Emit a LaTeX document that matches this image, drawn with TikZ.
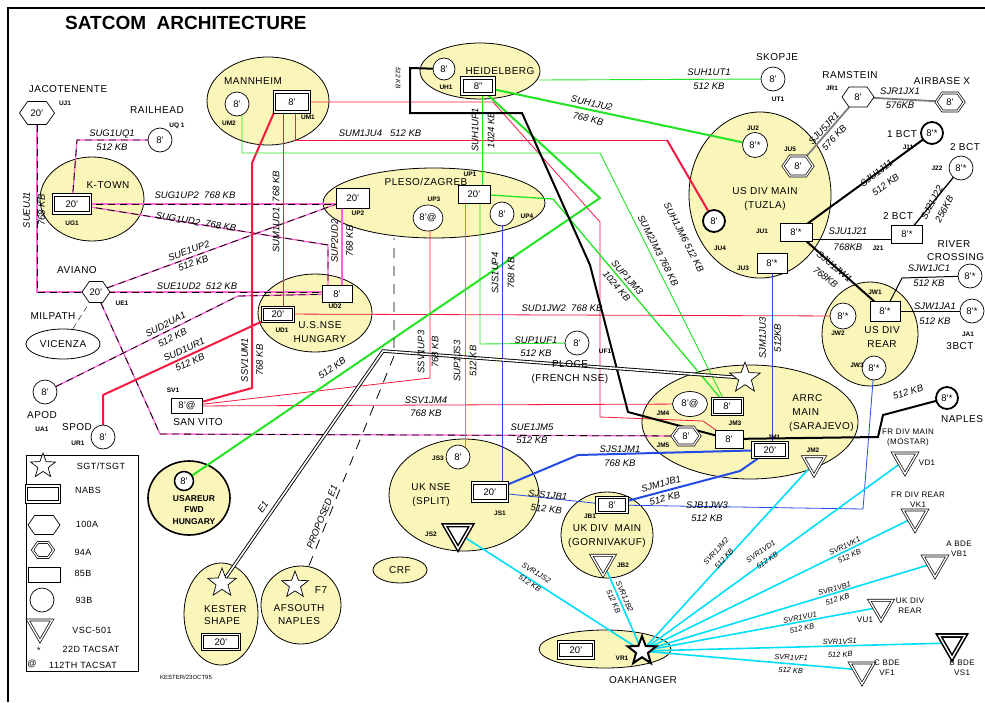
\documentclass[tikz,border=0pt]{standalone}
\usepackage{fontspec}
\setmainfont{Liberation Sans}
\newfontfamily\plf[LetterSpace=5]{Liberation Sans}
\usetikzlibrary{shapes.geometric,shapes.symbols,calc}
\pgfdeclarelayer{bg}
\pgfdeclarelayer{lines}
\pgfsetlayers{bg,lines,main}
\definecolor{yel}{RGB}{250,245,185}
\definecolor{pk}{RGB}{255,100,215}
\definecolor{rd}{RGB}{245,25,65}
\definecolor{gn}{RGB}{35,228,35}
\definecolor{bl}{RGB}{35,75,230}
\definecolor{cy}{RGB}{0,222,250}
\definecolor{gy}{RGB}{125,125,125}
\newcommand\fsz[1]{\fontsize{#1}{#1}\selectfont}
\tikzset{
 ell/.style={ellipse, draw, fill=yel, line width=0.8pt, inner sep=0pt},
 lab/.style={font=\fsz{9.5}\itshape, inner sep=0pt},
 lab2/.style={align=center, font=\fontsize{9.5}{#1}\selectfont\itshape, inner sep=0pt},
 clab2/.style={align=center, font=\fontsize{7.5}{#1}\selectfont\itshape, inner sep=0pt},
 slab/.style={font=\fsz{6.5}\itshape, inner sep=0pt},
 plc/.style={font=\plf\fsz{10}, inner sep=0pt, align=center},
 plc2/.style={font=\plf\fontsize{10}{#1}\selectfont, inner sep=0pt, align=center},
 tl/.style={font=\plf\fsz{8}, inner sep=0pt, align=center},
 tl2/.style={font=\plf\fontsize{8}{10}\selectfont, inner sep=0pt, align=center},
 lgt/.style={font=\plf\fsz{9}, inner sep=0pt},
 idl/.style={font=\fsz{6.5}\bfseries, inner sep=0pt},
 c93/.style={circle, draw, fill=white, line width=0.7pt, minimum size=24pt, inner sep=0pt, font=\fsz{9.5}},
 r85/.style={rectangle, draw, fill=white, line width=0.7pt, minimum width=32pt, minimum height=18pt, inner sep=0pt, font=\fsz{9.5}},
 nabs/.style={r85, line width=0.8pt, double=white, double distance=1.6pt},
 hexA/.style={signal, signal to=west and east, signal pointer angle=110, draw, fill=white, line width=0.7pt, inner sep=0pt, font=\fsz{9.5}},
 hexB/.style={hexA, double=white, double distance=1.2pt},
 vsc/.style={regular polygon, regular polygon sides=3, shape border rotate=180, draw, fill=white, line width=0.7pt, double=white, double distance=1.4pt, inner sep=0pt, minimum size=28pt},
 sgt/.style={star, star points=5, star point ratio=2.4, draw, fill=white, line width=0.7pt, inner sep=0pt, minimum size=30pt},
 pd/.style={draw=black, line width=0.8pt, dash pattern=on 7pt off 5pt, preaction={draw=pk, line width=1.3pt, solid}},
 thn/.style={line width=0.8pt},
 thk/.style={line width=2pt}
}
\begin{document}
\begin{tikzpicture}[x=1pt,y=-1pt]
\useasboundingbox (0,0) rectangle (985,702);
\begin{pgfonlayer}{bg}
\fill[white] (0,0) rectangle (985,702);
\node[ell,minimum width=122pt,minimum height=88pt] (eman) at (268,101) {};
\node[ell,minimum width=120pt,minimum height=56pt] (ehei) at (480,71) {};
\node[ell,minimum width=104pt,minimum height=84pt] (ektn) at (92,199) {};
\node[ell,minimum width=222pt,minimum height=70pt] (eple) at (434,203) {};
\node[ell,minimum width=142pt,minimum height=166pt] (etuz) at (760,195) {};
\node[ell,minimum width=114pt,minimum height=78pt] (ensh) at (315,313) {};
\node[ell,minimum width=96pt,minimum height=104pt] (erear) at (870,334) {};
\node[ell,minimum width=216pt,minimum height=114pt] (earrc) at (750,422) {};
\node[ell,minimum width=150pt,minimum height=112pt] (espl) at (464,495) {};
\node[ell,minimum width=92pt,minimum height=86pt] (egor) at (607,535) {};
\node[ell,minimum width=132pt,minimum height=38pt] (eoak) at (605,649) {};
\node[ell,line width=1.6pt,minimum width=82pt,minimum height=74pt] (eusa) at (189,498) {};
\node[ell,minimum width=74pt,minimum height=102pt] (ekes) at (221,614) {};
\node[ell,minimum width=80pt,minimum height=78pt] (eafs) at (301,605) {};
\node[ell,minimum width=54pt,minimum height=26pt] (ecrf) at (400,570) {};
\node[ell,fill=white,minimum width=74pt,minimum height=30pt] (evic) at (63,344) {};
\end{pgfonlayer}

% frame and title
\draw[line width=2.5pt] (8,702) -- (8,8) -- (985,8);
\node[font=\bfseries\fsz{19}, anchor=west, inner sep=0pt] (title) at (65,23) {SATCOM\ \ ARCHITECTURE};

% ---------- nodes ----------
\node[hexA, minimum width=35pt, minimum height=23pt] (uj1) at (37,113) {20'};
\node[plc] (t1) at (68,89) {JACOTENENTE};
\node[idl] (i1) at (65,103) {UJ1};
\node[plc] (t2) at (157,110) {RAILHEAD};
\node[c93] (uq1) at (160,140) {8'};
\node[idl] (i2) at (177,126) {UQ 1};

\node[plc] (t3) at (253,81) {MANNHEIM};
\node[c93] (um2) at (237,104) {8'};
\node[idl] (i3) at (229,123) {UM2};
\node[nabs, minimum width=35pt, minimum height=20pt] (um1) at (292,102) {8'};
\node[idl] (i4) at (308,117) {UM1};

\node[plc] (t4) at (500,71) {HEIDELBERG};
\node[c93, minimum size=22pt] (uh1) at (444,69) {8'};
\node[idl] (i5) at (446,87) {UH1};
\node[nabs, minimum width=32pt, minimum height=16pt] (uhb) at (478,86) {8''};

\node[plc] (t5) at (108,185) {K-TOWN};
\node[nabs, minimum width=37pt, minimum height=18pt] (ug1) at (72,204) {20'};
\node[idl] (i6) at (72,223) {UG1};

\node[plc] (t6) at (426,182) {PLESO/ZAGREB};
\node[r85, minimum width=33pt, minimum height=20pt] (up2) at (353,198) {20'};
\node[idl] (i7) at (358,213) {UP2};
\node[ellipse, draw, fill=white, line width=0.7pt, inner sep=0pt, minimum width=30pt, minimum height=26pt, font=\fsz{9.5}] (up3) at (428,218) {8'@};
\node[idl] (i8) at (434,199) {UP3};
\node[r85, minimum width=32pt, minimum height=18pt] (up1) at (474,194) {20'};
\node[idl] (i9) at (470,174) {UP1};
\node[c93] (up4) at (502,214) {8'};
\node[idl] (i10) at (527,216) {UP4};

\node[plc2=14] (t7) at (765,199) {US DIV MAIN\\(TUZLA)};
\node[c93, minimum width=25pt] (ju2) at (755,145) {8'*};
\node[idl] (i11) at (753,128) {JU2};
\node[hexB, minimum width=30pt, minimum height=20pt] (ju5) at (798,166) {8'};
\node[idl] (i12) at (790,149) {JU5};
\node[c93, line width=1.8pt, minimum size=22pt] (ju4) at (714,221) {8'};
\node[idl] (i13) at (720,248) {JU4};
\node[r85, minimum width=32pt, minimum height=18pt] (ju1) at (796,232) {8'*};
\node[idl] (i14) at (762,231) {JU1};
\node[r85, minimum width=30pt, minimum height=20pt] (ju3) at (772,263) {8'*};
\node[idl] (i15) at (743,268) {JU3};

\node[plc] (t8) at (777,57) {SKOPJE};
\node[c93] (ut1) at (773,79) {8'};
\node[idl] (i16) at (778,99) {UT1};
\node[plc] (t9) at (850,75) {RAMSTEIN};
\node[idl] (i17) at (832,88) {JR1};
\node[hexA, minimum width=32pt, minimum height=20pt] (jr1) at (858,97) {8'};
\node[plc] (t10) at (942,81) {AIRBASE X};
\node[hexB, minimum width=28pt, minimum height=18pt] (jx1) at (950,102) {8'};
\node[plc] (t11) at (902,134) {1 BCT};
\node[c93, line width=1.8pt, minimum size=22pt] (j11) at (932,133) {8'*};
\node[idl] (i18) at (908,147) {J11};
\node[plc] (t12) at (965,147) {2 BCT};
\node[c93] (j22) at (961,168) {8'*};
\node[idl] (i19) at (937,168) {J22};
\node[plc] (t13) at (898,216) {2 BCT};
\node[r85, minimum width=31pt, minimum height=18pt] (j21) at (907,234) {8'*};
\node[idl] (i20) at (878,248) {J21};

\node[plc2=13] (t14) at (954,251) {RIVER\\ \ CROSSING};
\node[c93] (jc1) at (970,276) {8'*};
\node[c93] (ja1) at (972,311) {8'*};
\node[idl] (i21) at (968,334) {JA1};
\node[plc] (t15) at (960,346) {3BCT};

\node[plc2=14] (t16) at (320,332) {U.S.NSE\\HUNGARY};
\node[r85, minimum width=30pt, minimum height=17pt] (ud2) at (337,294) {8'};
\node[idl] (i22) at (335,306) {UD2};
\node[nabs, line width=1.1pt, double distance=0.8pt, minimum width=31pt, minimum height=14pt] (ud1) at (278,314) {20'};
\node[idl] (i23) at (282,330) {UD1};

\node[plc2=14] (t17) at (882,337) {US DIV\\REAR};
\node[r85, minimum width=30pt, minimum height=20pt] (jw1) at (885,311) {8'*};
\node[idl] (i24) at (875,292) {JW1};
\node[c93, minimum size=26pt] (jw2) at (843,316) {8'*};
\node[idl] (i25) at (838,333) {JW2};
\node[c93] (jw3) at (874,368) {8'*};
\node[idl] (i26) at (857,365) {JW3};

\node[plc] (t18) at (962,419) {NAPLES};
\node[c93, line width=1.8pt, minimum size=22pt] (nap) at (947,398) {8'*};

\node[plc2=14, anchor=north west, align=left] (t19) at (789,394) {\ ARRC\\\ MAIN\\(SARAJEVO)};
\node[sgt, minimum size=32pt] (jmstar) at (745,378) {};
\node[nabs, line width=1.1pt, double distance=0.8pt, minimum width=30pt, minimum height=16pt] (jm3n) at (727,406) {8'};
\node[ellipse, draw, fill=white, line width=0.7pt, inner sep=0pt, minimum width=35pt, minimum height=25pt, font=\fsz{9.5}] (jm4) at (690,404) {8'@};
\node[idl] (i27) at (663,413) {JM4};
\node[hexB, minimum width=28pt, minimum height=18pt] (jm5) at (686,436) {8'};
\node[idl] (i28) at (663,445) {JM5};
\node[r85, minimum width=28pt, minimum height=18pt] (jm3) at (729,439) {8'};
\node[idl] (i29) at (735,423) {JM3};
\node[nabs, minimum width=34pt, minimum height=15pt] (jm1) at (770,450) {20'};
\node[idl] (i30) at (774,437) {JM1};
\node[vsc, minimum size=25pt] (jm2) at (814,463) {};
\node[idl] (i31) at (813,450) {JM2};

\node[plc] (t20) at (77,270) {AVIANO};
\node[hexA, minimum width=28pt, minimum height=21pt] (ue1) at (96,292) {20'};
\node[idl] (i32) at (122,303) {UE1};
\node[plc] (t21) at (53,316) {MILPATH};
\node[plc] (t22) at (63,344) {VICENZA};
\node[c93] (ua1) at (45,392) {8'};
\node[plc] (t23) at (42,415) {APOD};
\node[idl] (i33) at (42,429) {UA1};
\node[plc] (t24) at (77,427) {SPOD};
\node[idl] (i34) at (78,443) {UR1};
\node[c93] (ur1) at (103,437) {8'};
\node[r85, minimum width=31pt, minimum height=15pt] (sv1) at (187,406) {8'@};
\node[idl] (i35) at (173,390) {SV1};
\node[plc] (t25) at (198,422) {SAN VITO};

\node[c93] (uf1) at (577,343) {8'};
\node[idl] (i36) at (605,351) {UF1};
\node[plc2=14] (t26) at (570,372) {PLOCE\\(FRENCH NSE)};

\node[plc2=14] (t27) at (431,495) {UK NSE\\(SPLIT)};
\node[c93] (js3) at (458,457) {8'};
\node[idl] (i37) at (438,458) {JS3};
\node[nabs, minimum width=35pt, minimum height=18pt] (js1) at (490,492) {20'};
\node[idl] (i38) at (500,513) {JS1};
\node[vsc, line width=1.5pt, minimum size=31pt] (js2) at (458,533) {};
\node[idl] (i39) at (431,534) {JS2};

\node[plc2=14] (t28) at (607,536) {UK DIV\ \ MAIN\\(GORNIVAKUF)};
\node[nabs, minimum width=30pt, minimum height=15pt] (jb1) at (612,505) {8'};
\node[idl] (i40) at (590,516) {JB1};
\node[vsc, minimum size=27pt] (jb2) at (603,562) {};
\node[idl] (i41) at (623,565) {JB2};

\node[nabs, minimum width=35pt, minimum height=16pt] (oakb) at (576,650) {20'};
\node[sgt, line width=2pt, minimum size=30pt] (vr1) at (642,651) {};
\node[idl] (i42) at (622,658) {VR1};
\node[plc] (t29) at (643,680) {OAKHANGER};

\node[c93, line width=1.5pt, minimum size=19pt] (usa8) at (184,481) {8'};
\node[font=\fontsize{8.5}{11.5}\selectfont\bfseries, inner sep=0pt, align=center] (t30) at (194,510) {USAREUR\\FWD\\HUNGARY};

\node[sgt] (kstar) at (222,583) {};
\node[plc2=12, anchor=west, align=left] (t31) at (204,615) {KESTER\\SHAPE};
\node[nabs, minimum width=37pt, minimum height=15pt] (kesb) at (221,642) {20'};

\node[sgt, minimum size=28pt] (afstar) at (295,585) {};
\node[plc] (t32) at (321,590) {F7};
\node[plc2=13] (t33) at (299,615) {AFSOUTH\\NAPLES};
\node[plc] (t34) at (400,570) {CRF};

% triangles (VSC-501)
\node[vsc] (vd1) at (905,460) {};
\node[tl2] (t35) at (908,438) {FR DIV MAIN\\(MOSTAR)};
\node[tl] (t36) at (927,463) {VD1};
\node[vsc] (vk1) at (915,517) {};
\node[tl2] (t37) at (918,500) {FR DIV REAR\\VK1};
\node[vsc] (vb1) at (935,563) {};
\node[tl2] (t38) at (959,549) {A BDE\\VB1};
\node[vsc, minimum size=27pt] (vu1) at (881,607) {};
\node[tl2] (t39) at (910,606) {UK DIV\\REAR};
\node[tl] (t40) at (865,620) {VU1};
\node[vsc, line width=1.6pt, minimum size=30pt] (vs1) at (952,643) {};
\node[tl2] (t41) at (962,668) {B BDE\\VS1};
\node[vsc] (vf1) at (862,670) {};
\node[tl2] (t42) at (887,668) {C BDE\\VF1};

% legend
\draw[line width=0.8pt] (26,455) rectangle (138,671);
\node[sgt, minimum size=26pt] (lg1) at (43,466) {};
\node[lgt] (l1) at (101,466) {SGT/TSGT};
\node[nabs, minimum width=33pt, minimum height=16pt] (lg2) at (43,494) {};
\node[lgt] (l2) at (88,490) {NABS};
\node[hexA, minimum width=32pt, minimum height=19pt] (lg3) at (44,525) {};
\node[lgt] (l3) at (87,524) {100A};
\node[hexB, minimum width=21pt, minimum height=15pt] (lg4) at (43,550) {};
\node[lgt] (l4) at (83,552) {94A};
\node[r85, minimum width=32pt, minimum height=15pt] (lg5) at (44,575) {};
\node[lgt] (l5) at (83,573) {85B};
\node[c93] (lg6) at (42,600) {};
\node[lgt] (l6) at (84,600) {93B};
\node[vsc] (lg7) at (40,627) {};
\node[lgt] (l7) at (92,630) {VSC-501};
\node[lgt] (l8) at (39,650) {*};
\node[lgt] (l9) at (91,649) {22D TACSAT};
\node[lgt] (l10) at (32,664) {@};
\node[lgt] (l11) at (83,665) {112TH TACSAT};
\node[font=\fsz{6}, inner sep=0pt] (t43) at (186,677) {KESTER/23OCT95};

% ---------- connectors ----------
\begin{pgfonlayer}{lines}
\draw[pd] (uj1.center) |- (ue1.center);
\draw[pd] (ug1.center) -- (77,140) -- (uq1.center);
\draw[pd] (ug1.center) -- (ug1.center -| up2.center);
\draw[pd] (ug1.center) -- (328,245) -- (328,294);
\draw[pd] (ue1.center) -- (up2.center);
\draw[pd] (ue1.center) -- (ue1.center -| ud2.center);
\draw[pd] (ue1.center) -- (160,434) -- (jm5.center);
\draw[pd] (ua1.center) -- (238,296) -- (ud2.center);
\draw[pk, line width=1.2pt] (342,199) -- (342,294);
\draw[thin, dash pattern=on 6pt off 4pt] (evic.north) ++(10,0) -- (88,305);
% red
\draw[rd, thk] (ur1.center) -- (103,395) -- (ud1.center);
\draw[rd, thk] (sv1.center) -- (252,388) -- (252,163) -- (um1.south west);
\draw[rd, thn] (sv1.center) -- (430,378) -- (430,218);
\draw[rd, thn] (sv1.center) -- (jm4.center);
\draw[rd, thn] (295,101) -- (295,140) -- (667,140);
\draw[rd, thk] (667,140) -- (ju4.center);
\draw[rd, thn] (um1.center) -- (493,102) -- (600,222) -- (600,417) -- (703,421) -- (jm3.center);
\draw[rd, thn] (ud1.center) -- (jw2.center);
\draw[rd, thn] (283,101) -- (283,314);
% green
\draw[gn, line width=0.9pt] ($(ehei.east)+(-1,9)$) -- (ut1.center);
\draw[gn, thk] (uhb.center) -- (ju2.center);
\draw[gn, line width=0.9pt] (482,86) -- (482,194);
\draw[gn, thk] (uhb.center) -- (600,198) -- (usa8.center);
\draw[gn, line width=0.9pt] (242,104) -- (242,153) -- (600,153) -- (jm3n.center);
\draw[gn, line width=1.3pt] (up1.center) -- (553,199) -- (jm3n.center);
\draw[gn, line width=0.9pt] (480,194) -- (480,344) -- (uf1.center);
\draw[gn, line width=0.9pt] (465,194) -- (465,457);
% blue
\draw[bl, thn] (up4.center) -- (up4.center |- js1.center);
\draw[bl, thk] (js1.center) -- (578,455) -- (jm1.center);
\draw[bl, thn] (js1.center) -- (jb1.center);
\draw[bl, thk] (jb1.center) -- (740,471) -- (jm1.center);
\draw[bl, thn] (jb1.center) -- (863,509) -- (jw3.center);
\draw[bl, thn] (ju3.center) -- (ju3.center |- jm1.center);
% black / grey
\draw[thk] (uh1.center) -- (410,68) -- (410,113) -- (522,113) -- (590,265) -- (628,412) -- (jm3.center);
\draw[thk] (jm3.center) -- (878,437) -- (883,415) -- (nap.center);
\draw[gy, line width=1.8pt] (jr1.center) -- (jx1.center);
\draw[gy, line width=1.8pt] (ju5.center) -- (jr1.center);
\draw[thk] (ju1.center) -- (j11.center);
\draw[line width=1pt] ($(ju1.east)+(0,7)$) -- ($(j21.west)+(0,5)$);
\draw[line width=1.3pt] (j21.center) -- (j22.center);
\draw[thk] (ju1.center) -- (jw1.center);
\draw[line width=1pt] (jw1.center) -- (902,278) -- (jc1.center);
\draw[line width=1pt] (jw1.center) -- (ja1.center);
% E1 and proposed E1
\draw[line width=0.9pt, double=white, double distance=1.6pt] (kstar.center) -- (383,351) -- (jmstar.center);
\draw[line width=0.8pt, dash pattern=on 10pt off 8pt] (eafs.north) ++(8,0) -- (394,356) -- (394,238);
% cyan
\foreach \t in {js2,jb2,jm2,vd1,vk1,vb1,vu1,vs1,vf1}
  \draw[cy, line width=1.6pt] (vr1.center) -- (\t.center);
\end{pgfonlayer}

% ---------- connector labels ----------
\node[lab2=15, rotate=90] (c1) at (34,210) {SUEUJ1\\768 KB};
\node[lab2=14] (c2) at (112,140) {SUG1UQ1\\512 KB};
\node[lab] (c3) at (195,195) {SUG1UP2\ \ 768 KB};
\node[lab, rotate=-9] (c4) at (196,222) {SUG1UD2\ \ 768 KB};
\node[lab2=13, rotate=20] (c5) at (191,257) {SUE1UP2\\512 KB};
\node[lab] (c6) at (197,286) {SUE1UD2\ \ 512 KB};
\node[lab2=15, rotate=27] (c7) at (169,331) {SUD2UA1\\512 KB};
\node[lab2=14, rotate=25] (c8) at (187,356) {SUD1UR1\\512 KB};
\node[lab2=15, rotate=90] (c9) at (252,360) {SSV1UM1\\768 KB};
\node[lab, rotate=90] (c10) at (276,212) {SUM1UD1\ \ 768 KB};
\node[lab2=15, rotate=90] (c11) at (342,241) {SUP2UD2\\768 KB};
\node[lab] (c12) at (380,133) {SUM1JU4\ \ \ 512 KB};
\node[slab, rotate=-90] (c13) at (398,78) {512 KB};
\node[lab2=16, rotate=90] (c14) at (483,130) {SUH1UP1\\1024 KB};
\node[lab2=14] (c15) at (709,79) {SUH1UT1\\512 KB};
\node[lab2=16, rotate=-13] (c16) at (590,111) {SUH1JU2\\768 KB};
\node[lab2=29, rotate=-63] (c17) at (671,244) {SUH1JM6 512 KB\\SUM2JM3 768 KB};
\node[lab2=14, rotate=-49] (c18) at (622,282) {SUP1JM3\\1024 KB};
\node[lab] (c19) at (562,308) {SUD1JW2\ \ 768 KB};
\node[lab2=13] (c20) at (536,347) {SUP1UF1\\512 KB};
\node[lab2=16, rotate=90] (c21) at (503,273) {SJS1UP4\\768 KB};
\node[lab2=16, rotate=90] (c22) at (465,361) {SUP1JS3\\512 KB};
\node[lab2=14, rotate=90] (c23) at (428,352) {SSV1UP3\\768 KB};
\node[lab2=13] (c24) at (426,407) {SSV1JM4\\768 KB};
\node[lab, rotate=35] (c25) at (332,368) {512 KB};
\node[lab, rotate=55] (c26) at (263,507) {E1};
\node[lab, rotate=68] (c27) at (322,517) {PROPOSED E1};
\node[lab2=13] (c28) at (532,434) {SUE1JM5\\512 KB};
\node[lab2=14] (c29) at (620,456) {SJS1JM1\\768 KB};
\node[lab2=14, rotate=-6] (c30) at (547,502) {SJS1JB1\\512 KB};
\node[lab2=15, rotate=15] (c31) at (663,491) {SJM1JB1\\512 KB};
\node[lab2=13] (c32) at (707,512) {SJB1JW3\\512 KB};
\node[lab2=15, rotate=90] (c33) at (770,338) {SJM1JU3\\512KB};
\node[lab, rotate=17] (c34) at (908,392) {512 KB};
\node[lab2=15] (c35) at (929,276) {SJW1JC1\\512 KB};
\node[lab2=15] (c36) at (935,314) {SJW1JA1\\512 KB};
\node[lab2=14, rotate=-39] (c37) at (830,272) {SJU1JW1\\768KB};
\node[lab2=16] (c38) at (848,239) {SJU1J21\\768KB};
\node[lab2=15, rotate=37] (c39) at (881,179) {SJU1J11\\512 KB};
\node[lab2=14, rotate=62] (c40) at (938,206) {SJ21J22\\256KB};
\node[lab2=14, rotate=47] (c41) at (829,133) {SJU5JR1\\576 KB};
\node[lab2=14] (c42) at (900,98) {SJR1JX1\\576KB};
\node[clab2=12, rotate=-32] (d1) at (533,578) {SVR1JS2\\512 KB};
\node[clab2=12, rotate=-66] (d2) at (619,599) {SVR1JB2\\512 KB};
\node[clab2=11, rotate=48] (d3) at (720,555) {SVR1JM2\\512 KB};
\node[clab2=11, rotate=36] (d4) at (764,556) {SVR1VD1\\512 KB};
\node[clab2=11, rotate=26] (d5) at (847,551) {SVR1VK1\\512 KB};
\node[clab2=11, rotate=16] (d6) at (836,594) {SVR1VB1\\512 KB};
\node[clab2=11, rotate=10] (d7) at (801,623) {SVR1VU1\\512 KB};
\node[clab2=13, rotate=2] (d8) at (840,648) {SVR1VS1\\512 KB};
\node[clab2=13, rotate=-2] (d9) at (791,664) {SVR1VF1\\512 KB};
\end{tikzpicture}
\end{document}
